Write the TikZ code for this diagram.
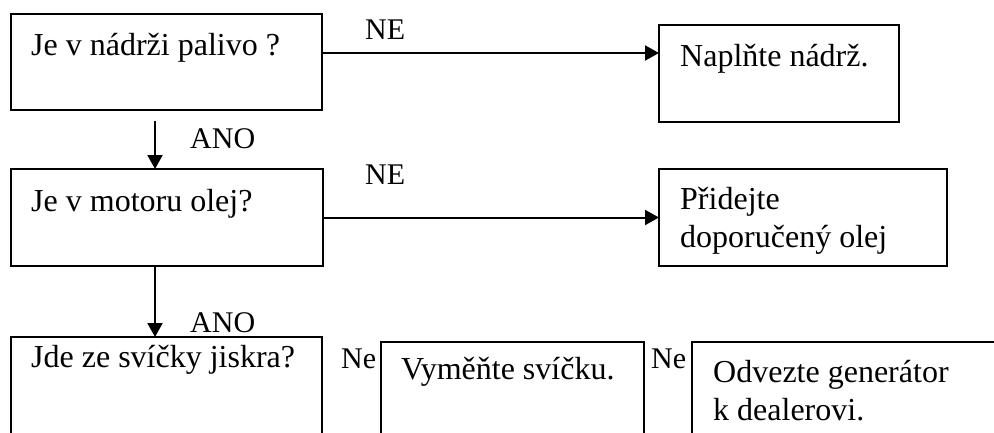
\documentclass[tikz,border=0pt]{standalone}
\usepackage{fontspec}
\setmainfont{Liberation Serif}
\usetikzlibrary{arrows.meta,calc}
\begin{document}
\begin{tikzpicture}[x=1pt,y=-1pt,
  box/.style={draw,line width=2pt,inner sep=0pt,outer sep=0pt,anchor=north west},
  txt/.style={inner sep=0pt,anchor=base west,font=\fontsize{32}{38}\selectfont},
  lbl/.style={inner sep=0pt,anchor=base west,font=\fontsize{30}{36}\selectfont},
  arr/.style={line width=2pt,-{Triangle[length=14pt,width=15pt]}}]
\useasboundingbox (0,0) rectangle (994,432);
\clip (0,0) rectangle (994,432);
\fill[white] (0,0) rectangle (994,432);
% boxes
\node[box,minimum width=311pt,minimum height=96pt] (q1) at (11,14) {};
\node[box,minimum width=240pt,minimum height=97pt] (a1) at (659,25) {};
\node[box,minimum width=312pt,minimum height=97pt] (q2) at (11,169) {};
\node[box,minimum width=288pt,minimum height=97pt] (a2) at (659,169) {};
\node[box,minimum width=311pt,minimum height=130pt] (q3) at (11,337) {};
\node[box,minimum width=263pt,minimum height=130pt] (a3) at (381,342) {};
\node[box,minimum width=330pt,minimum height=130pt] (a4) at (692,342) {};
% texts
\node[txt] (t1) at (31,55) {Je v nádrži palivo ?};
\node[txt] (t2) at (680,66) {Naplňte nádrž.};
\node[txt] (t3) at (31,211) {Je v motoru olej?};
\node[txt] (t4a) at (680,209) {Přidejte};
\node[txt] (t4b) at (680,247) {doporučený olej};
\node[txt] (t5) at (31,367) {Jde ze svíčky jiskra?};
\node[txt] (t6) at (401,379) {Vyměňte svíčku.};
\node[txt] (t7a) at (713,382) {Odvezte generátor};
\node[txt] (t7b) at (713,420) {k dealerovi.};
% labels
\node[lbl] (l1) at (365,39) {NE};
\node[lbl] (l2) at (190,148) {ANO};
\node[lbl] (l3) at (365,184) {NE};
\node[lbl] (l4) at (190,332) {ANO};
\node[lbl] (l5) at (341,368) {Ne};
\node[lbl] (l6) at (651,368) {Ne};
% connectors
\coordinate (s1) at (155,121);
\draw[arr] ([yshift=9pt]q1.east) -- ([yshift=9pt]q1.east -| a1.west);
\draw[arr] (s1) -- (s1 |- q2.north);
\draw[arr] (q2.east) -- (a2.west);
\draw[arr] (q2.south -| s1) -- (q3.north -| s1);
\end{tikzpicture}
\end{document}
